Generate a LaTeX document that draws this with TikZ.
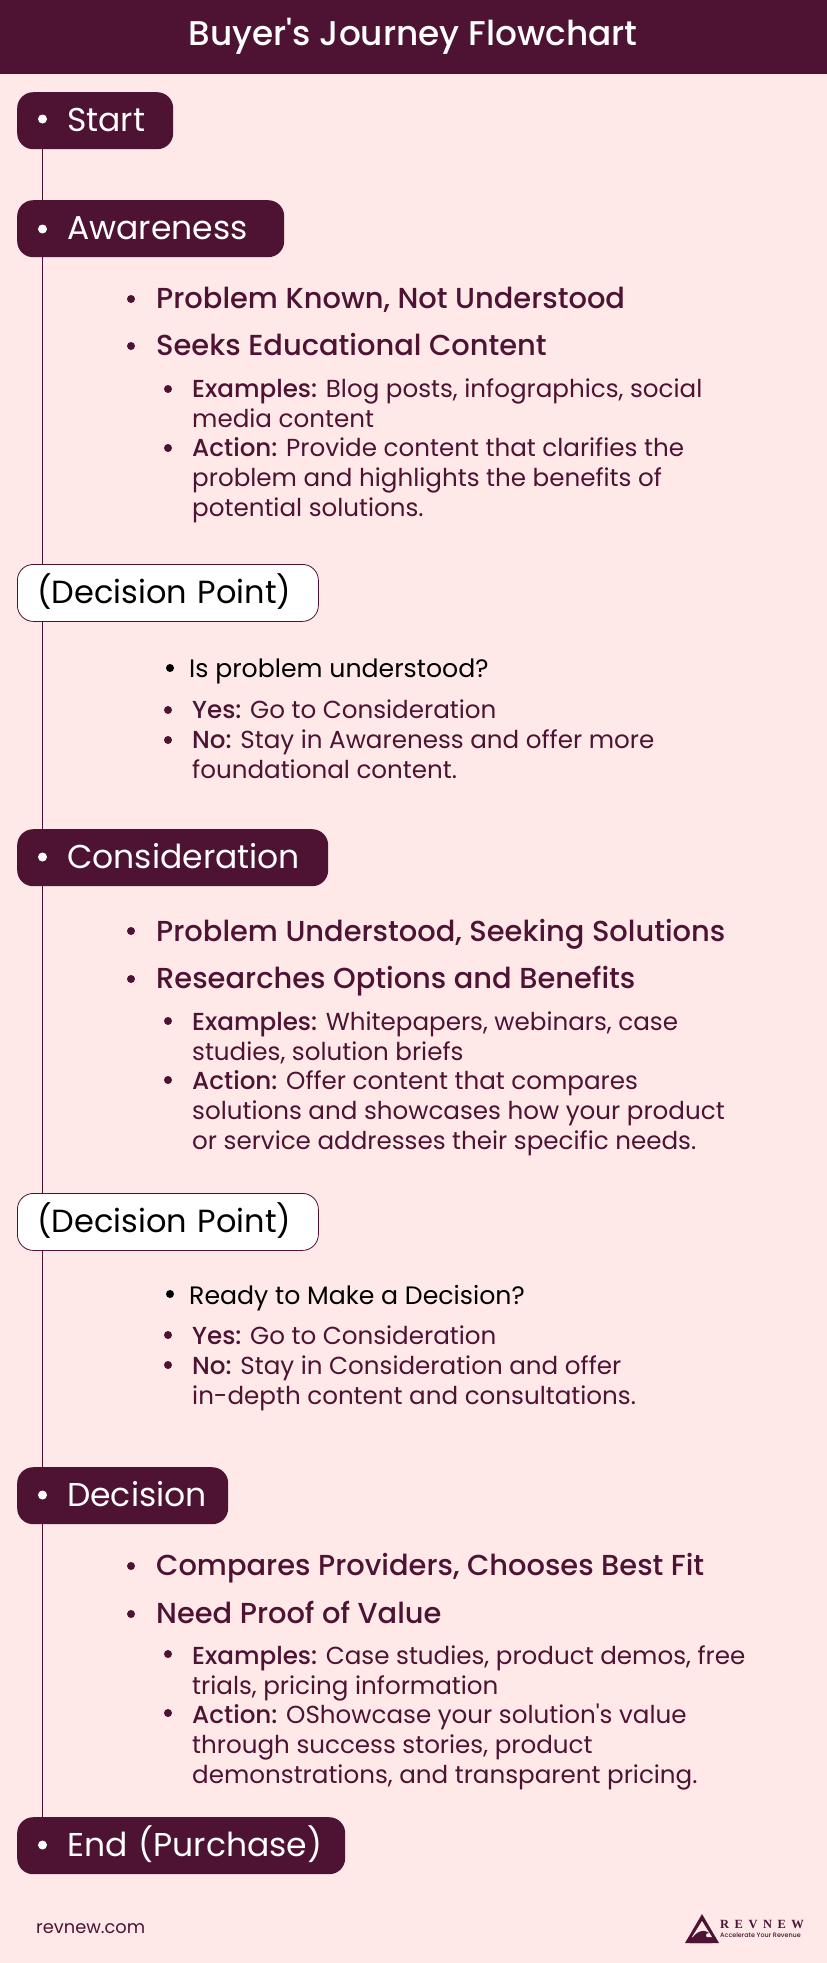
\documentclass[tikz,border=0pt]{standalone}
\usepackage{fontspec}
\setmainfont{Poppins}[BoldFont={Poppins Medium}]
\newfontfamily\bodyfont{Poppins}[BoldFont={Poppins Medium}]
\newfontfamily\medfont{Poppins Medium}
\newfontfamily\logofont{Liberation Serif Bold}
\definecolor{plum}{HTML}{4E1233}
\definecolor{blush}{HTML}{FEE9E8}
\tikzset{
	stagebox/.style={rounded corners=16pt,fill=plum,text=white,anchor=north west,minimum width=#1,text width=#1,minimum height=57pt,inner xsep=0pt,inner ysep=0pt,align=left,font=\fontsize{33}{38}\selectfont,text height=26pt,text depth=4pt},
	decisionbox/.style={stagebox=#1,fill=white,draw=plum,text=black,line width=0.8pt,font=\fontsize{32}{38}\selectfont},
	headtext/.style={anchor=base west,inner sep=0pt,text=plum,font=\medfont\fontsize{28.9}{34}\selectfont},
	subtext/.style={anchor=west,inner sep=0pt,text=plum,align=left,font=\bodyfont\fontsize{24.6}{30}\selectfont},
	asktext/.style={subtext,text=black,font=\bodyfont\fontsize{25.2}{30}\selectfont},
	dot/.style={circle,fill=plum,inner sep=0pt,minimum size=8pt},
	whitedot/.style={circle,fill=white,inner sep=0pt,minimum size=9pt},
	spine/.style={draw=plum,line width=1pt}
}
\begin{document}
\begin{tikzpicture}[x=1pt,y=-1pt]
	\useasboundingbox (0,0) rectangle (827,1963);
	\fill[blush] (0,0) rectangle (827,1963);
	% Header
	\fill[plum] (0,0) rectangle (827,74);
	\node[text=white,font=\medfont\fontsize{34.3}{40}\selectfont] (title) at (413,36) {Buyer's Journey Flowchart};

	% Stages
	\node[stagebox=156pt] (start) at (17,92) {\hspace*{50pt}Start};
	\node[stagebox=267pt] (awareness) at (17,200) {\hspace*{50pt}Awareness};
	\node[decisionbox=301pt] (pointone) at (17,564) {\hspace*{20pt}(Decision Point)};
	\node[stagebox=311pt] (consideration) at (17,829) {\hspace*{50pt}Consideration};
	\node[decisionbox=301pt] (pointtwo) at (17,1193) {\hspace*{20pt}(Decision Point)};
	\node[stagebox=211pt] (decision) at (17,1467) {\hspace*{50pt}Decision};
	\node[stagebox=328pt] (finish) at (17,1817) {\hspace*{50pt}End (Purchase)};
	\node[whitedot] (dotstart) at (42.5,119) {};
	\node[whitedot] (dotawareness) at (42.5,229) {};
	\node[whitedot] (dotconsideration) at (42.5,857) {};
	\node[whitedot] (dotdecision) at (42.5,1495) {};
	\node[whitedot] (dotfinish) at (42.5,1845) {};

	% Spine
	\draw[spine] ([xshift=25.5pt]start.south west) -- ([xshift=25.5pt]awareness.north west);
	\draw[spine] ([xshift=25.5pt]awareness.south west) -- ([xshift=25.5pt]pointone.north west);
	\draw[spine] ([xshift=25.5pt]pointone.south west) -- ([xshift=25.5pt]consideration.north west);
	\draw[spine] ([xshift=25.5pt]consideration.south west) -- ([xshift=25.5pt]pointtwo.north west);
	\draw[spine] ([xshift=25.5pt]pointtwo.south west) -- ([xshift=25.5pt]decision.north west);
	\draw[spine] ([xshift=25.5pt]decision.south west) -- ([xshift=25.5pt]finish.north west);

	% Awareness
	\node[dot] (dota) at (131,299) {};
	\node[headtext] (heada) at (156,308) {Problem Known, Not Understood};
	\node[dot] (dotb) at (131,346) {};
	\node[headtext] (headb) at (156,355) {Seeks Educational Content};
	\node[dot] (dotc) at (168,389) {};
	\node[subtext] (suba) at (192,403) {\textbf{Examples:} Blog posts, infographics, social\\media content};
	\node[dot] (dotd) at (168,448) {};
	\node[subtext] (subb) at (192,480) {\textbf{Action:} Provide content that clarifies the\\problem and highlights the benefits of\\potential solutions.};

	% First decision
	\node[dot,fill=black] (dote) at (170,668) {};
	\node[asktext] (ask) at (189,671) {Is problem understood?};
	\node[dot] (dotf) at (168,710) {};
	\node[subtext] (suc) at (192,709) {\textbf{Yes:} Go to Consideration};
	\node[dot] (dotg) at (168,740) {};
	\node[subtext] (sud) at (192,754) {\textbf{No:} Stay in Awareness and offer more\\foundational content.};

	% Consideration
	\node[dot] (doth) at (131,931) {};
	\node[headtext] (headc) at (156,941) {Problem Understood, Seeking Solutions};
	\node[dot] (doti) at (131,979) {};
	\node[headtext] (headd) at (156,988) {Researches Options and Benefits};
	\node[dot] (dotj) at (168,1021) {};
	\node[subtext] (sue) at (192,1038) {\textbf{Examples:} Whitepapers, webinars, case\\studies, solution briefs};
	\node[dot] (dotk) at (168,1080) {};
	\node[subtext] (suf) at (192,1113) {\textbf{Action:} Offer content that compares\\solutions and showcases how your product\\or service addresses their specific needs.};

	% Second decision
	\node[dot,fill=black] (dotl) at (170,1294) {};
	\node[asktext] (ready) at (189,1298) {Ready to Make a Decision?};
	\node[dot] (dotm) at (168,1335) {};
	\node[subtext] (sug) at (192,1335) {\textbf{Yes:} Go to Consideration};
	\node[dot] (dotn) at (168,1365) {};
	\node[subtext] (suh) at (192,1383) {\textbf{No:} Stay in Consideration and offer\\in-depth content and consultations.};

	% Decision
	\node[dot] (doto) at (131,1566) {};
	\node[headtext] (heade) at (156,1575) {Compares Providers, Chooses Best Fit};
	\node[dot] (dotp) at (131,1614) {};
	\node[headtext] (headf) at (156,1623) {Need Proof of Value};
	\node[dot] (dotq) at (168,1654) {};
	\node[subtext] (sui) at (192,1673) {\textbf{Examples:} Case studies, product demos, free\\trials, pricing information};
	\node[dot] (dotr) at (168,1713) {};
	\node[subtext] (suj) at (192,1747) {\textbf{Action:} OShowcase your solution's value\\through success stories, product\\demonstrations, and transparent pricing.};

	% Footer
	\node[anchor=west,inner sep=0pt,text=plum,font=\fontsize{17.8}{22}\selectfont] (site) at (36,1929) {revnew.com};
	\fill[plum] (702,1914) -- (719,1943) -- (685,1943) -- cycle;
	\fill[blush] (702,1921) -- (712,1937) -- (692,1937) -- cycle;
	\fill[plum] (690,1943) .. controls (694,1932) and (703,1928) .. (709,1933) .. controls (705,1933) and (704,1936) .. (712,1943) -- cycle;
	\node[anchor=west,inner sep=0pt,text=plum,font=\logofont\fontsize{12.5}{14}\selectfont] (logoname) at (720,1924) {R\hspace{5.5pt}E\hspace{5.5pt}V\hspace{5.5pt}N\hspace{5.5pt}E\hspace{5.5pt}W};
	\node[anchor=west,inner sep=0pt,text=plum,font=\bfseries\fontsize{6.4}{8}\selectfont] (logotag) at (720,1935) {Accelerate Your Revenue};
\end{tikzpicture}
\end{document}
